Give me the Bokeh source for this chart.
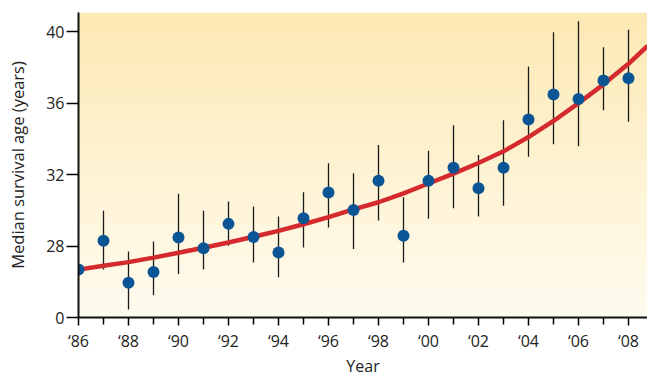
import numpy as np
from bokeh.plotting import figure
from bokeh.models import FixedTicker, ColumnDataSource
from bokeh.embed import file_html
from bokeh.resources import INLINE

years = list(range(1986, 2009))
median_age = [26.68, 28.29, 25.94, 26.55, 28.48, 27.87, 29.24, 28.50, 27.64, 29.56,
              30.99, 30.02, 31.66, 28.57, 31.66, 32.38, 31.23, 32.38, 35.08, 36.48,
              36.23, 37.27, 37.39]
err_upper = [None, 29.98, 27.70, 28.26, 30.92, 29.98, 30.49, 30.21, 29.65, 31.01,
             32.63, 32.07, 33.65, 30.73, 33.33, 34.76, 33.09, 35.04, 38.05, 39.97,
             40.58, 39.13, 40.10]
err_lower = [None, 26.68, 24.45, 25.24, 26.44, 26.68, 28.02, 27.08, 26.25, 27.92,
             29.04, 27.83, 29.43, 27.08, 29.52, 30.12, 29.65, 30.25, 33.00, 33.69,
             33.59, 35.60, 34.95]
fit_years = [1986, 1987, 1988, 1989, 1990, 1991, 1992, 1993, 1994, 1995, 1996, 1997,
             1998, 1999, 2000, 2001, 2002, 2003, 2004, 2005, 2006, 2007, 2008, 2008.76]
fit_age = [26.68, 26.90, 27.10, 27.35, 27.62, 27.90, 28.20, 28.52, 28.85, 29.22, 29.62,
           30.05, 30.45, 30.95, 31.50, 32.05, 32.65, 33.30, 34.10, 35.00, 36.00, 37.05,
           38.20, 39.20]
y_ticks = [24, 28, 32, 36, 40]
y_tick_labels = ["0", "28", "32", "36", "40"]

X0, X1 = 1986, 2008.76
Y0, Y1 = 24, 41.07

p = figure(width=647, height=379, output_backend="svg", toolbar_location=None,
           x_range=(X0, X1), y_range=(Y0, Y1),
           min_border_left=78, min_border_right=0, min_border_top=12, min_border_bottom=61)
p.outline_line_color = None
p.background_fill_color = "white"
p.border_fill_color = "white"

# background gradient
n = 200
top = np.array([253, 233, 180], dtype=float)
bot = np.array([255, 252, 240], dtype=float)
t = np.linspace(0, 1, n)[:, None]
cols = bot * (1 - t) + top * t
img = np.zeros((n, 1), dtype=np.uint32)
view = img.view(dtype=np.uint8).reshape((n, 1, 4))
view[:, 0, 0] = cols[:, 0]
view[:, 0, 1] = cols[:, 1]
view[:, 0, 2] = cols[:, 2]
view[:, 0, 3] = 255
p.image_rgba(image=[img], x=X0, y=Y0, dw=X1 - X0, dh=Y1 - Y0)

# grid
p.xgrid.grid_line_color = None
p.ygrid.ticker = FixedTicker(ticks=[28, 32, 36, 40])
p.ygrid.grid_line_color = "#E6B77A"
p.ygrid.grid_line_width = 1.5
p.ygrid.level = "image"

# error bars
eb_x = [x for x, u in zip(years, err_upper) if u is not None]
eb_u = [u for u in err_upper if u is not None]
eb_l = [l for l in err_lower if l is not None]
src = ColumnDataSource(dict(x=eb_x, upper=eb_u, lower=eb_l))
p.segment(x0="x", y0="lower", x1="x", y1="upper", source=src, line_color="#1a1a1a", line_width=1.3)

# fit curve
p.line(fit_years, fit_age, line_color="#D42A2E", line_width=4.5)

# points
p.scatter(years, median_age, size=12, fill_color="#0B5595", line_color=None)

font = "Open Sans"
# x axis
xa = p.xaxis[0]
xa.ticker = FixedTicker(ticks=list(range(1986, 2009, 2)), minor_ticks=list(range(1987, 2009, 2)))
xa.major_label_overrides = {y: "\u2018" + str(y)[2:] for y in range(1986, 2009, 2)}
xa.axis_line_width = 2
xa.axis_line_color = "#111111"
xa.major_tick_in = 0
xa.major_tick_out = 8
xa.minor_tick_in = 0
xa.minor_tick_out = 7
xa.major_tick_line_width = 1.5
xa.minor_tick_line_width = 1.5
xa.major_label_text_font = font
xa.major_label_text_font_size = "16px"
xa.major_label_text_color = "#222222"
xa.major_label_standoff = 4
xa.axis_label = "Year"
xa.axis_label_text_font = font
xa.axis_label_text_font_size = "16px"
xa.axis_label_text_font_style = "normal"
xa.axis_label_text_color = "#222222"
xa.axis_label_standoff = 0

ya = p.yaxis[0]
ya.ticker = FixedTicker(ticks=y_ticks, minor_ticks=[])
ya.major_label_overrides = dict(zip(y_ticks, y_tick_labels))
ya.axis_line_width = 2
ya.axis_line_color = "#111111"
ya.major_tick_in = 0
ya.major_tick_out = 12
ya.major_tick_line_width = 1.5
ya.major_label_text_font = font
ya.major_label_text_font_size = "16px"
ya.major_label_text_color = "#222222"
ya.major_label_standoff = 2
ya.axis_label = "Median survival age (years)"
ya.axis_label_text_font = font
ya.axis_label_text_font_size = "16.5px"
ya.axis_label_text_font_style = "normal"
ya.axis_label_text_color = "#222222"
ya.axis_label_standoff = 14

open("out.html", "w").write(file_html(p, INLINE))
